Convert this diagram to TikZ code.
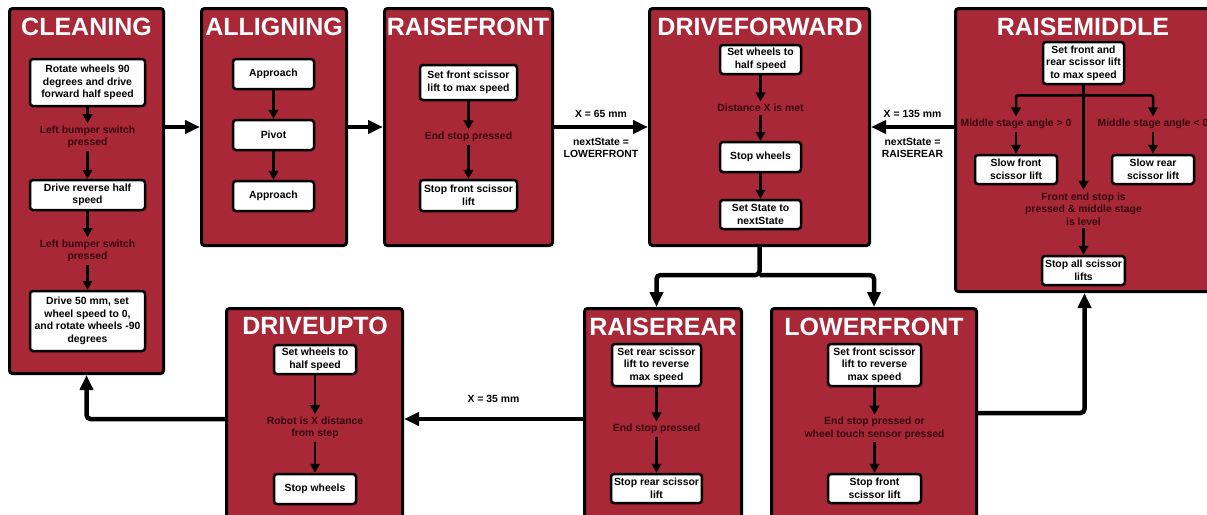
\documentclass[tikz,border=0pt]{standalone}
\usepackage{fontspec}
\setmainfont{Liberation Sans}
\usetikzlibrary{arrows.meta}
\definecolor{statered}{RGB}{168,40,56}
\definecolor{condtext}{RGB}{55,8,14}

\begin{document}
\begin{tikzpicture}[x=1pt,y=-1pt,
        state/.style={draw=black, line width=3pt, fill=statered, rounded corners=3pt, anchor=north west, inner sep=0pt},
        title/.style={text=white, inner sep=0pt, font=\fontsize{25}{28}\selectfont\bfseries},
        stepbox/.style={draw=black, line width=2.5pt, fill=white, rounded corners=3pt, align=center, inner sep=3pt, font=\fontsize{10.4}{12.6}\selectfont\bfseries},
        cond/.style={text=condtext, align=center, inner sep=2.5pt, font=\fontsize{10.4}{12.6}\selectfont\bfseries},
        edgelab/.style={align=center, inner sep=2.5pt, font=\fontsize{10.4}{12.6}\selectfont\bfseries},
        flow/.style={-{Triangle[length=9pt,width=9.5pt]}, line width=2.5pt},
        trans/.style={-{Triangle[length=15pt,width=13pt]}, line width=4.5pt, rounded corners=4pt}]
        \path[use as bounding box, clip] (0,0) rectangle (1207,514);

        % States
        \node[state, minimum width=154pt, minimum height=365pt] (cleaning) at (8,7) {};
        \node[state, minimum width=145pt, minimum height=237pt] (alligning) at (200,7) {};
        \node[state, minimum width=168pt, minimum height=237pt] (raisefront) at (383,7) {};
        \node[state, minimum width=220pt, minimum height=237pt] (driveforward) at (648,7) {};
        \node[state, minimum width=258pt, minimum height=283pt] (raisemiddle) at (954,7) {};
        \node[state, minimum width=176pt, minimum height=233pt] (driveupto) at (225,307) {};
        \node[state, minimum width=157pt, minimum height=233pt] (raiserear) at (583,307) {};
        \node[state, minimum width=205pt, minimum height=233pt] (lowerfront) at (770,307) {};

        \node[title] (cleaningT) at (86.5,27) {CLEANING};
        \node[title] (alligningT) at (274,27) {ALLIGNING};
        \node[title] (raisefrontT) at (468,27) {RAISEFRONT};
        \node[title] (driveforwardT) at (760,27) {DRIVEFORWARD};
        \node[title] (raisemiddleT) at (1083,27) {RAISEMIDDLE};
        \node[title] (driveuptoT) at (315,326) {DRIVEUPTO};
        \node[title] (raiserearT) at (663,327) {RAISEREAR};
        \node[title] (lowerfrontT) at (874,327) {LOWERFRONT};

        % CLEANING
        \node[stepbox, minimum width=115pt, minimum height=47pt] (cl1) at (87.5,82.5) {Rotate wheels 90\\degrees and drive\\forward half speed};
        \node[cond] (cl2) at (87.5,137) {Left bumper switch\\pressed};
        \node[stepbox, minimum width=115pt, minimum height=30pt] (cl3) at (87.5,195) {Drive reverse half\\speed};
        \node[cond] (cl4) at (87.5,251) {Left bumper switch\\pressed};
        \node[stepbox, minimum width=115pt, minimum height=60pt] (cl5) at (87.5,321) {Drive 50 mm, set\\wheel speed to 0,\\and rotate wheels -90\\degrees};

        % ALLIGNING
        \node[stepbox, minimum width=81pt, minimum height=30pt] (al1) at (273.5,74) {Approach};
        \node[stepbox, minimum width=81pt, minimum height=30pt] (al2) at (273.5,135) {Pivot};
        \node[stepbox, minimum width=81pt, minimum height=30pt] (al3) at (273.5,196) {Approach};

        % RAISEFRONT
        \node[stepbox, minimum width=97pt, minimum height=35pt] (rf1) at (468.5,82.5) {Set front scissor\\lift to max speed};
        \node[cond] (rf2) at (468.5,137) {End stop pressed};
        \node[stepbox, minimum width=97pt, minimum height=31pt] (rf3) at (468.5,195.5) {Stop front scissor\\lift};

        % DRIVEFORWARD
        \node[stepbox, minimum width=81pt, minimum height=29pt] (df1) at (760.5,59.5) {Set wheels to\\half speed};
        \node[cond] (df2) at (760.5,108) {Distance X is met};
        \node[stepbox, minimum width=81pt, minimum height=30pt] (df3) at (760.5,157) {Stop wheels};
        \node[stepbox, minimum width=81pt, minimum height=29pt] (df4) at (760.5,214.5) {Set State to\\nextState};

        % RAISEMIDDLE
        \node[stepbox, minimum width=81pt, minimum height=42pt] (rm1) at (1083.5,63) {Set front and\\rear scissor lift\\to max speed};
        \node[cond] (rm2) at (1016,124) {Middle stage angle > 0};
        \node[cond] (rm3) at (1153,124) {Middle stage angle < 0};
        \node[stepbox, minimum width=82pt, minimum height=29pt] (rm4) at (1016,169.5) {Slow front\\scissor lift};
        \node[stepbox, minimum width=82pt, minimum height=29pt] (rm5) at (1153,169.5) {Slow rear\\scissor lift};
        \node[cond] (rm6) at (1083.5,209) {Front end stop is\\pressed \& middle stage\\is level};
        \node[stepbox, minimum width=81pt, minimum height=29pt] (rm7) at (1083.5,270.5) {Stop all scissor\\lifts};

        % DRIVEUPTO
        \node[stepbox, minimum width=82pt, minimum height=29pt] (du1) at (315,359.5) {Set wheels to\\half speed};
        \node[cond] (du2) at (315,428) {Robot is X distance\\from step};
        \node[stepbox, minimum width=82pt, minimum height=30pt] (du3) at (315,489) {Stop wheels};

        % RAISEREAR
        \node[stepbox, minimum width=89pt, minimum height=42pt] (rr1) at (656.5,365) {Set rear scissor\\lift to reverse\\max speed};
        \node[cond] (rr2) at (656.5,429) {End stop pressed};
        \node[stepbox, minimum width=89pt, minimum height=29pt] (rr3) at (656.5,488.5) {Stop rear scissor\\lift};

        % LOWERFRONT
        \node[stepbox, minimum width=93pt, minimum height=42pt] (lf1) at (874.5,365) {Set front scissor\\lift to reverse\\max speed};
        \node[cond] (lf2) at (874.5,428.5) {End stop pressed or\\wheel touch sensor pressed};
        \node[stepbox, minimum width=93pt, minimum height=29pt] (lf3) at (874.5,488.5) {Stop front\\scissor lift};

        % Steps
        \draw[flow] (cl1) -- (cl2);
        \draw[flow] (cl2) -- (cl3);
        \draw[flow] (cl3) -- (cl4);
        \draw[flow] (cl4) -- (cl5);
        \draw[flow] (al1) -- (al2);
        \draw[flow] (al2) -- (al3);
        \draw[flow] (rf1) -- (rf2);
        \draw[flow] (rf2) -- (rf3);
        \draw[flow] (df1) -- (df2);
        \draw[flow] (df2) -- (df3);
        \draw[flow] (df3) -- (df4);
        \draw[flow, rounded corners=2pt] (rm1.south) -- ++(0,10) coordinate (rmsplit) -| (rm2);
        \draw[flow, rounded corners=2pt] (rmsplit) -| (rm3);
        \draw[flow] (rm1) -- (rm6);
        \draw[flow] (rm2) -- (rm4);
        \draw[flow] (rm3) -- (rm5);
        \draw[flow] (rm6) -- (rm7);
        \draw[flow] (du1) -- (du2);
        \draw[flow] (du2) -- (du3);
        \draw[flow] (rr1) -- (rr2);
        \draw[flow] (rr2) -- (rr3);
        \draw[flow] (lf1) -- (lf2);
        \draw[flow] (lf2) -- (lf3);

        % Transitions
        \draw[trans] (cleaning.east |- alligning.west) -- (alligning);
        \draw[trans] (alligning) -- (raisefront);
        \draw[trans] (raisefront) -- (driveforward)
            node[edgelab, midway, above=5pt] (x65) {X = 65 mm}
            node[edgelab, midway, below=6pt] (ns65) {nextState =\\LOWERFRONT};
        \draw[trans] (raisemiddle.west |- driveforward.east) -- (driveforward.east)
            node[edgelab, midway, above=5pt] (x135) {X = 135 mm}
            node[edgelab, midway, below=6pt] (ns135) {nextState =\\RAISEREAR};
        \draw[trans] (driveforward.south) -- ++(0,28) coordinate (dfsplit) -| (rr1 |- raiserear.north);
        \draw[trans] (dfsplit) -| (lowerfront.north);
        \draw[trans] ([yshift=12pt]lowerfront.east) -| (raisemiddle.south);
        \draw[trans] ([yshift=6pt]raiserear.west) -- ([yshift=6pt]driveupto.east)
            node[edgelab, midway, above=12pt] (x35) {X = 35 mm};
        \draw[trans] ([yshift=6pt]driveupto.west) -| (cleaning.south);
\end{tikzpicture}
\end{document}
